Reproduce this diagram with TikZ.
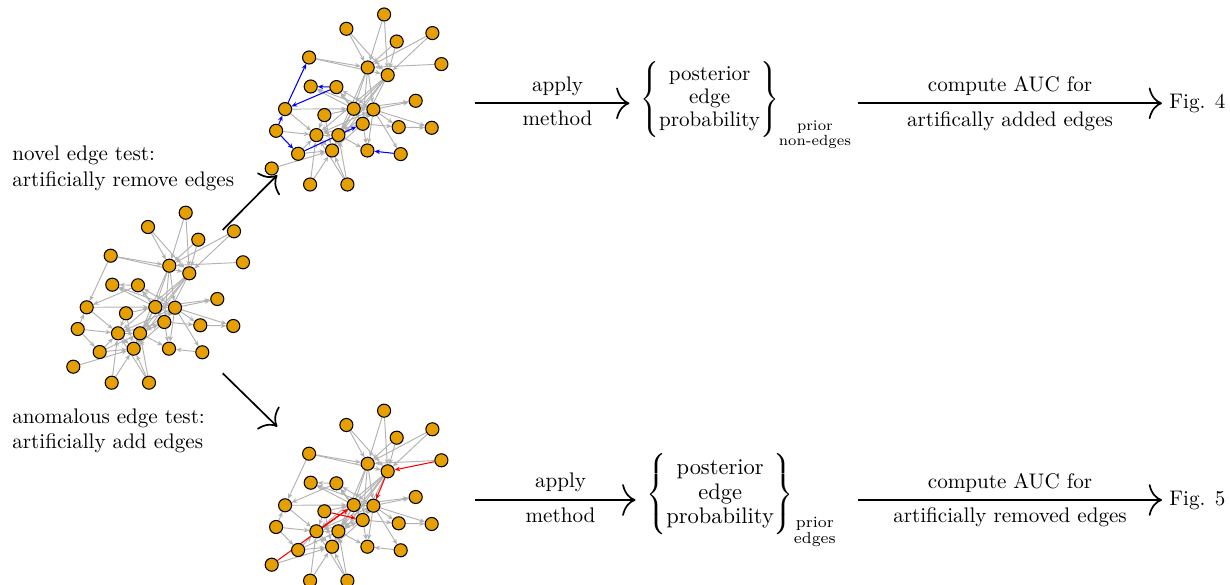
\documentclass[tikz,border=0pt]{standalone}
\usepackage{amsmath}
\usetikzlibrary{arrows.meta,backgrounds}
\definecolor{vfill}{HTML}{E69F00}
\definecolor{egray}{HTML}{B2B2B2}

\newcommand\vertlist{1/185.7/212.7, 2/148/227, 3/198.3/239.7, 4/234/231.3, 5/110.7/255.7, 6/169.3/265.7, 7/243/262.3, 8/189.3/273.3, 9/112.3/284.7, 10/138/285.3, 11/217.3/299, 12/86.7/307.3, 13/155.3/307, 14/175/307.7, 15/126/313.3, 16/164.3/322, 17/200.3/325.3, 18/233.3/326, 19/77.7/329, 20/118/333.3, 21/140/333.3, 22/99.7/352, 23/133.7/348.7, 24/169/348.7, 25/202.3/352.3, 26/73.3/366.7, 27/111.7/382.7, 28/149/382.7}
\newcommand\commonedges{1/6, 1/8, 2/6, 2/8, 3/6, 3/8, 4/6, 4/8, 5/6, 5/8, 7/6, 6/13, 6/14, 6/16, 8/13, 8/16, 8/23, 13/9, 14/9, 14/10, 13/10, 16/10, 13/11, 14/11, 12/20, 12/13, 13/14, 15/13, 13/16, 13/21, 13/23, 14/16, 14/17, 14/18, 14/25, 14/24, 14/20, 14/21, 15/20, 15/23, 16/17, 16/20, 16/21, 16/23, 16/24, 17/18, 19/20, 20/21, 20/23, 22/23, 22/20, 21/23, 21/24, 26/23, 27/23, 28/23, 27/20, 28/20, 28/21, 6/23, 8/20, 8/21}
\newcommand\heldedges{5/12, 10/9, 10/12, 19/12, 19/22, 22/16, 25/24}
\newcommand\removededges{12/5, 10/9, 10/12, 19/12, 19/22, 22/16, 25/24}
\newcommand\addededges{7/8, 8/14, 15/16, 20/13, 26/13}

\newcommand\graphnodes[1]{\foreach \i/\x/\y in \vertlist {\node[vert] (#1\i) at (\x,\y) {};}}
\newcommand\graphedges[3]{\foreach \s/\t in #3 {\draw[#2] (#1\s) -- (#1\t);}}
\newcommand\postbox[1]{$\renewcommand{\arraystretch}{0.91}\left\{\rule[-15.5pt]{0pt}{36pt}\begin{array}{@{}c@{}}\text{posterior}\\ \text{edge}\\ \text{probability}\end{array}\right\}_{\substack{\text{prior}\\ \text{#1}}}$}

\begin{document}
\begin{tikzpicture}[x=0.474pt,y=-0.474pt,
  vert/.style={circle,draw=black,fill=vfill,line width=0.5pt,minimum size=6.2pt,inner sep=0pt},
  gedge/.style={draw=egray,line width=0.45pt,-{Stealth[length=2.6pt,width=2.2pt]}},
  bedge/.style={draw=blue,line width=0.5pt,-{Stealth[length=2.6pt,width=2.2pt]}},
  redge/.style={draw=red,line width=0.5pt,-{Stealth[length=2.6pt,width=2.2pt]}},
  flow/.style={line width=0.8pt,-{To[length=6.3pt,width=15pt]}},
  lab/.style={inner sep=0pt,align=left,anchor=west}]
\useasboundingbox (0,0) rectangle (1230,585);

% original graph
\graphnodes{L-}
\begin{scope}[on background layer]
  \graphedges{L-}{gedge}{\commonedges}
  \graphedges{L-}{gedge}{\heldedges}
\end{scope}

% novel edge test graph
\begin{scope}[shift={(198.4,-198.2)}]
  \graphnodes{T-}
\end{scope}
\begin{scope}[on background layer]
  \graphedges{T-}{gedge}{\commonedges}
  \graphedges{T-}{bedge}{\removededges}
\end{scope}

% anomalous edge test graph
\begin{scope}[shift={(198.4,198)}]
  \graphnodes{B-}
\end{scope}
\begin{scope}[on background layer]
  \graphedges{B-}{gedge}{\commonedges}
  \graphedges{B-}{gedge}{\heldedges}
  \graphedges{B-}{redge}{\addededges}
\end{scope}

% labels
\node[lab] (novel) at (12,168.5) {novel edge test:\\artificially remove edges};
\node[lab] (anom) at (12,431) {anomalous edge test:\\artificially add edges};

% diagonal arrows
\coordinate (d1s) at (222.7,230);
\coordinate (d1e) at (277.3,175);
\coordinate (d2s) at (222.7,373.3);
\coordinate (d2e) at (277.3,426.7);
\draw[flow] (d1s) -- (d1e);
\draw[flow] (d2s) -- (d2e);

% top row
\node[anchor=base west,inner sep=0pt] (post1) at (640,104.3) {\postbox{non-edges}};
\node[anchor=west] (fig4) at (1162,103.3) {Fig. 4};
\coordinate (a1s) at (475,103.3);
\coordinate (a2s) at (858,103.3);
\draw[flow,shorten >=5pt] (a1s) -- (a1s -| post1.west)
  node[midway,above] (app1) {apply} node[midway,below] (met1) {method};
\draw[flow] (a2s) -- (fig4.west)
  node[midway,above] (auc1) {compute AUC for} node[midway,below] (add1) {artifically added edges};

% bottom row
\node[anchor=base west,inner sep=0pt,scale=1.065] (post2) at (646,500) {\postbox{edges}};
\node[anchor=west] (fig5) at (1162,500) {Fig. 5};
\coordinate (b1s) at (475,500);
\coordinate (b2s) at (858,500);
\draw[flow,shorten >=5pt] (b1s) -- (b1s -| post2.west)
  node[midway,above] (app2) {apply} node[midway,below] (met2) {method};
\draw[flow] (b2s) -- (fig5.west)
  node[midway,above] (auc2) {compute AUC for} node[midway,below] (rem2) {artificially removed edges};
\end{tikzpicture}
\end{document}
